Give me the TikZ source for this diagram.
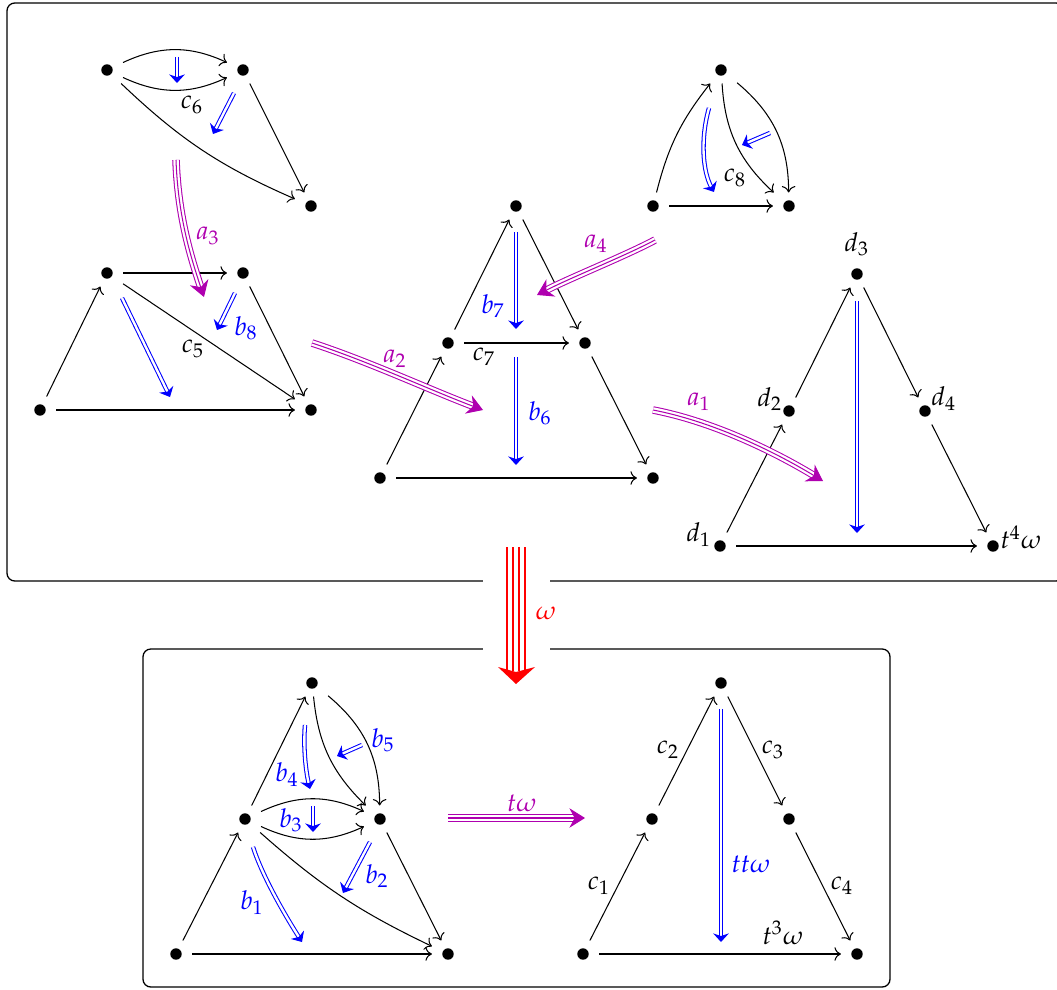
\documentclass[tikz,border=0pt]{standalone}
\usepackage{mathpazo}
\usetikzlibrary{arrows.meta}
\definecolor{mag}{RGB}{175,0,175}
\newcommand\trip[2][mag]{%
  \draw[#1, line width=0.4pt, double=white, double distance=2.1pt, shorten >=4pt] #2;
  \draw[#1, line width=0.4pt, -{Stealth[length=6pt,width=7.5pt,inset=2pt]}] #2;}
\begin{document}
\begin{tikzpicture}[x=0.385pt,y=-0.385pt,
  dot/.style={rectangle, minimum width=12pt, minimum height=10pt, inner sep=0pt,
    path picture={\fill (path picture bounding box.center) circle (2.2pt);}},
  ar/.style={->, line width=0.4pt},
  bl/.style={blue, line width=0.4pt, double, double distance=0.9pt,
    -{Stealth[length=3.3pt,width=6pt,inset=1pt]}},
  lab/.style={inner sep=0pt},
  frame/.style={line width=0.5pt, rounded corners=3pt}]
\useasboundingbox (0,0) rectangle (1057,990);
\clip (0,0) rectangle (1057,990);
% frames
\draw[frame] (7,3) rectangle (1064,581);
\draw[frame] (143,649) rectangle (890,987);
\fill[white] (483,570) rectangle (550,660);
% ---------- top-left c6 ----------
\node[dot] (a1) at (107,70) {};
\node[dot] (a2) at (243,70) {};
\node[dot] (a3) at (311,206) {};
\draw[ar] (a1) to[bend left=25] (a2);
\draw[ar] (a1) to[bend right=25] (a2);
\draw[ar] (a1) to[bend right=10] (a3);
\draw[ar] (a2) -- (a3);
\node[lab] (lc6) at (192,105) {$c_6$};
\coordinate (p1s) at (177,57); \coordinate (p1e) at (177,83);
\draw[bl] (p1s) -- (p1e);
\coordinate (p2s) at (234,93); \coordinate (p2e) at (213,134);
\draw[bl] (p2s) -- (p2e);
% ---------- lower-left c5 ----------
\node[dot] (b1) at (40,410) {};
\node[dot] (b2) at (107,273) {};
\node[dot] (b3) at (243,273) {};
\node[dot] (b4) at (311,410) {};
\draw[ar] (b1) -- (b2);
\draw[ar] (b2) -- (b3);
\draw[ar] (b3) -- (b4);
\draw[ar] (b2) -- (b4);
\draw[ar] (b1) -- (b4);
\node[lab] (lc5) at (193,349) {$c_5$};
\coordinate (p3s) at (122,298); \coordinate (p3e) at (170,397);
\draw[bl] (p3s) -- (p3e);
\coordinate (p4s) at (235,293); \coordinate (p4e) at (217,330);
\draw[bl] (p4s) -- (p4e);
\node[lab, blue] (lb8) at (246,328) {$b_8$};
% a3
\coordinate (q3s) at (176,160); \coordinate (q3e) at (204,297);
\trip{(q3s) .. controls (178,215) and (190,255) .. (q3e)}
\node[lab, mag] (la3) at (208,236) {$a_3$};
% ---------- middle c7 ----------
\node[dot] (c1) at (380,478) {};
\node[dot] (c2) at (448,343) {};
\node[dot] (c3) at (516,206) {};
\node[dot] (c4) at (585,343) {};
\node[dot] (c5) at (653,478) {};
\draw[ar] (c1) -- (c2);
\draw[ar] (c2) -- (c3);
\draw[ar] (c3) -- (c4);
\draw[ar] (c4) -- (c5);
\draw[ar] (c2) -- (c4);
\draw[ar] (c1) -- (c5);
\node[lab] (lc7) at (484,357) {$c_7$};
\coordinate (p5s) at (516,232); \coordinate (p5e) at (516,329);
\draw[bl] (p5s) -- (p5e);
\node[lab, blue] (lb7) at (493,306) {$b_7$};
\coordinate (p6s) at (516,357); \coordinate (p6e) at (516,465);
\draw[bl] (p6s) -- (p6e);
\node[lab, blue] (lb6) at (540,413) {$b_6$};
% a2
\coordinate (q2s) at (312,343); \coordinate (q2e) at (483,410);
\trip{(q2s) .. controls (370,362) and (430,390) .. (q2e)}
\node[lab, mag] (la2) at (395,359) {$a_2$};
% a4
\coordinate (q4s) at (655,240); \coordinate (q4e) at (537,295);
\trip{(q4s) .. controls (625,256) and (572,277) .. (q4e)}
\node[lab, mag] (la4) at (596,244) {$a_4$};
% ---------- top-right c8 ----------
\node[dot] (d1) at (653,206) {};
\node[dot] (d2) at (721,70) {};
\node[dot] (d3) at (789,206) {};
\draw[ar] (d1) to[bend left=12] (d2);
\draw[ar] (d2) to[bend right=22] (d3);
\draw[ar] (d2) to[bend left=25] (d3);
\draw[ar] (d1) -- (d3);
\node[lab] (lc8) at (735,178) {$c_8$};
\coordinate (p7s) at (709,108); \coordinate (p7e) at (714,192);
\draw[bl] (p7s) .. controls (700,140) and (703,172) .. (p7e);
\coordinate (p8s) at (770,133); \coordinate (p8e) at (742,145);
\draw[bl] (p8s) -- (p8e);
% ---------- right triangle ----------
\node[dot] (e1) at (720,546) {};
\node[dot] (e2) at (789,411) {};
\node[dot] (e3) at (857,274) {};
\node[dot] (e4) at (925,411) {};
\node[dot] (e5) at (993,546) {};
\node[lab] (ld1) at (699,535) {$d_1$};
\node[lab] (ld2) at (770,399) {$d_2$};
\node[lab] (ld3) at (857,244) {$d_3$};
\node[lab] (ld4) at (944,399) {$d_4$};
\node[lab] (lt4) at (1021,537) {$t^4\omega$};
\draw[ar] (e1) -- (e2);
\draw[ar] (e2) -- (e3);
\draw[ar] (e3) -- (e4);
\draw[ar] (e4) -- (e5);
\draw[ar] (e1) -- (e5);
\coordinate (p9s) at (857,301); \coordinate (p9e) at (857,533);
\draw[bl] (p9s) -- (p9e);
% a1
\coordinate (q1s) at (653,410); \coordinate (q1e) at (823,481);
\trip{(q1s) .. controls (710,421) and (770,449) .. (q1e)}
\node[lab, mag] (la1) at (699,402) {$a_1$};
% ---------- red omega ----------
\coordinate (r1) at (507,547); \coordinate (r1e) at (507,671);
\coordinate (r2) at (513,547); \coordinate (r2e) at (513,671);
\coordinate (r3) at (519,547); \coordinate (r3e) at (519,671);
\coordinate (r4) at (525,547); \coordinate (r4e) at (525,671);
\draw[red, line width=0.4pt] (r1) -- (r1e) (r2) -- (r2e) (r3) -- (r3e) (r4) -- (r4e);
\fill[red] (498,667) -- (516,684) -- (535,667) -- (516,672) -- cycle;
\node[lab, red] (lom) at (546,613) {$\omega$};
% ---------- bottom-left ----------
\node[dot] (f1) at (176,954) {};
\node[dot] (f2) at (245,819) {};
\node[dot] (f3) at (312,683) {};
\node[dot] (f4) at (380,819) {};
\node[dot] (f5) at (448,954) {};
\draw[ar] (f1) -- (f2);
\draw[ar] (f2) -- (f3);
\draw[ar] (f3) to[bend right=20] (f4);
\draw[ar] (f3) to[bend left=25] (f4);
\draw[ar] (f2) to[bend left=25] (f4);
\draw[ar] (f2) to[bend right=25] (f4);
\draw[ar] (f2) to[bend right=8] (f5);
\draw[ar] (f4) -- (f5);
\draw[ar] (f1) -- (f5);
\coordinate (s4s) at (305,725); \coordinate (s4e) at (310,789);
\draw[bl] (s4s) .. controls (303,748) and (306,772) .. (s4e);
\node[lab, blue] (lb4) at (287,775) {$b_4$};
\coordinate (s5s) at (362,745); \coordinate (s5e) at (337,756);
\draw[bl] (s5s) -- (s5e);
\node[lab, blue] (lb5) at (383,740) {$b_5$};
\coordinate (s3s) at (313,806); \coordinate (s3e) at (313,832);
\draw[bl] (s3s) -- (s3e);
\node[lab, blue] (lb3) at (291,820) {$b_3$};
\coordinate (s2s) at (370,842); \coordinate (s2e) at (343,893);
\draw[bl] (s2s) -- (s2e);
\node[lab, blue] (lb2) at (377,876) {$b_2$};
\coordinate (s1s) at (253,847); \coordinate (s1e) at (302,942);
\draw[bl] (s1s) .. controls (262,875) and (283,912) .. (s1e);
\node[lab, blue] (lb1) at (252,903) {$b_1$};
% t omega
\coordinate (qts) at (448,818); \coordinate (qte) at (585,818);
\trip{(qts) -- (qte)}
\node[lab, mag] (ltw) at (522,803) {$t\omega$};
% ---------- bottom-right ----------
\node[dot] (g1) at (583,954) {};
\node[dot] (g2) at (652,819) {};
\node[dot] (g3) at (721,683) {};
\node[dot] (g4) at (789,819) {};
\node[dot] (g5) at (857,954) {};
\draw[ar] (g1) -- (g2);
\draw[ar] (g2) -- (g3);
\draw[ar] (g3) -- (g4);
\draw[ar] (g4) -- (g5);
\draw[ar] (g1) -- (g5);
\node[lab] (lc1) at (599,886) {$c_1$};
\node[lab] (lc2) at (668,750) {$c_2$};
\node[lab] (lc3) at (773,750) {$c_3$};
\node[lab] (lc4) at (842,886) {$c_4$};
\node[lab] (lt3) at (783,933) {$t^3\omega$};
\coordinate (s6s) at (721,709); \coordinate (s6e) at (721,942);
\draw[bl] (s6s) -- (s6e);
\node[lab, blue] (ltt) at (751,864) {$tt\omega$};
\end{tikzpicture}
\end{document}
